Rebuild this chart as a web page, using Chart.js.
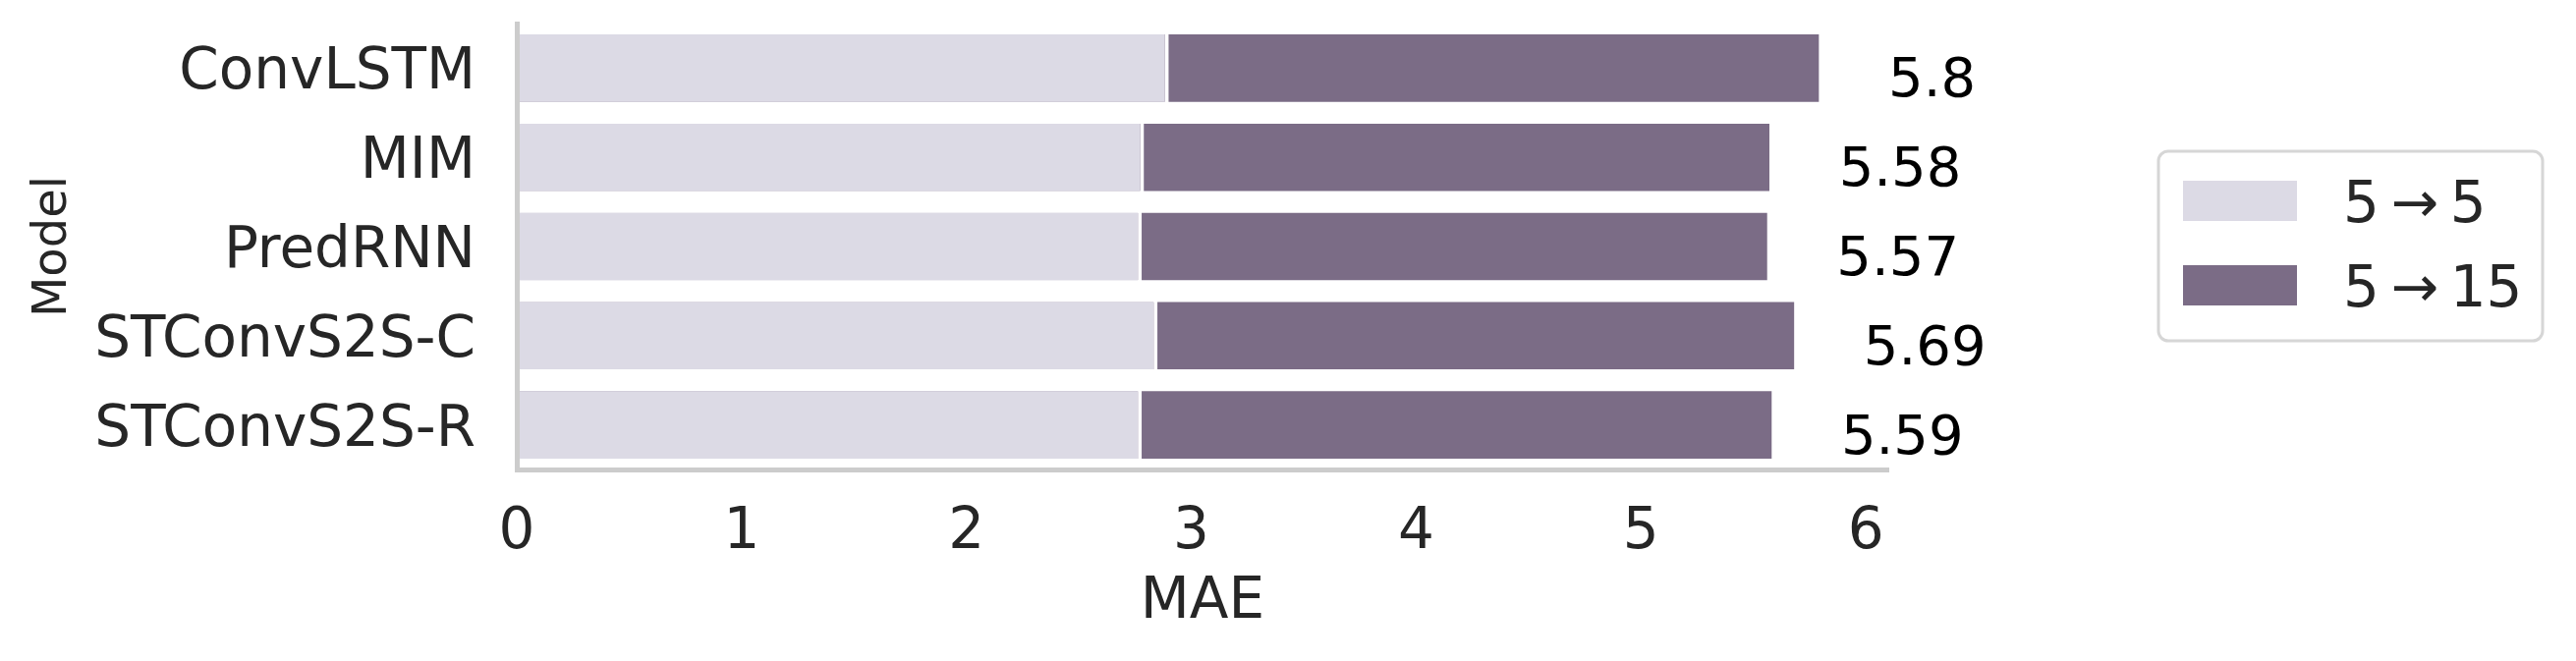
<!DOCTYPE html>
<html>
<head>
<meta charset="utf-8">
<script src="https://cdn.jsdelivr.net/npm/chart.js@4.4.2/dist/chart.umd.min.js"></script>
<style>
  html, body { margin: 0; padding: 0; background: #ffffff; }
  #wrap { width: 2622px; height: 673px; }
</style>
</head>
<body>
<div id="wrap"><canvas id="maeChart" width="2622" height="673"></canvas></div>
<script>
// Data
const models = ["ConvLSTM", "MIM", "PredRNN", "STConvS2S-C", "STConvS2S-R"];
const mae5to5 = [2.90, 2.79, 2.78, 2.85, 2.78];
const mae5to15 = [5.80, 5.58, 5.57, 5.69, 5.59];
const seriesNames = ["5\u2009\u2192\u20095", "5\u2009\u2192\u200915"];
const xTicks = [0, 1, 2, 3, 4, 5, 6];

const FONT = "'DejaVu Sans', 'Liberation Sans', sans-serif";
const TEXT = "#262626";
const LIGHT = "#dcdae5";
const DARK = "#7b6c86";

// value labels at the end of the 5->15 bars
const valueLabels = {
    id: "valueLabels",
    afterDatasetsDraw(chart) {
        const ctx = chart.ctx;
        const x = chart.scales.x;
        const y = chart.scales.y;
        ctx.save();
        ctx.font = "56px " + FONT;
        ctx.fillStyle = "#000000";
        ctx.textAlign = "left";
        ctx.textBaseline = "alphabetic";
        mae5to15.forEach((v, i) => {
            ctx.fillText(String(v), x.getPixelForValue(v + 0.3), y.getPixelForValue(i + 0.32));
        });
        ctx.restore();
    }
};

// framed legend on the right, like matplotlib's
const boxLegend = {
    id: "boxLegend",
    afterDraw(chart) {
        const ctx = chart.ctx;
        const left = 2197, top = 154, w = 391, h = 193;
        ctx.save();
        ctx.beginPath();
        ctx.roundRect(left, top, w, h, 10);
        ctx.fillStyle = "rgba(255,255,255,0.8)";
        ctx.fill();
        ctx.lineWidth = 3;
        ctx.strokeStyle = "#d6d6d6";
        ctx.stroke();
        ctx.font = "58px " + FONT;
        ctx.textAlign = "left";
        ctx.textBaseline = "alphabetic";
        chart.data.datasets.forEach((ds, i) => {
            const rowTop = 184 + i * 86;
            ctx.fillStyle = ds.backgroundColor;
            ctx.fillRect(2222, rowTop, 116, 41);
            ctx.fillStyle = TEXT;
            ctx.fillText(ds.label, 2385, rowTop + 42);
        });
        ctx.restore();
    }
};

new Chart(document.getElementById("maeChart"), {
    type: "bar",
    data: {
        labels: models,
        datasets: [
            {
                label: seriesNames[0],
                data: mae5to5,
                backgroundColor: LIGHT,
                borderColor: "#ffffff",
                borderWidth: { top: 2, right: 4, bottom: 2, left: 0 },
                borderSkipped: false,
                grouped: false,
                barPercentage: 0.8,
                categoryPercentage: 1.0
            },
            {
                label: seriesNames[1],
                data: mae5to15,
                backgroundColor: DARK,
                borderColor: "#ffffff",
                borderWidth: { top: 2, right: 2, bottom: 2, left: 0 },
                borderSkipped: false,
                grouped: false,
                barPercentage: 0.8,
                categoryPercentage: 1.0
            }
        ]
    },
    options: {
        indexAxis: "y",
        responsive: false,
        animation: false,
        devicePixelRatio: 1,
        layout: { padding: { top: 24, right: 700, bottom: 0, left: 0 } },
        plugins: {
            legend: { display: false },
            tooltip: { enabled: false }
        },
        scales: {
            x: {
                min: 0,
                max: 6.1,
                afterBuildTicks: scale => { scale.ticks = xTicks.map(v => ({ value: v })); },
                afterFit: scale => {
                    scale.height = 195;
                    scale.paddingLeft = 0;
                    scale.paddingRight = 0;
                },
                grid: { display: false, drawTicks: false },
                border: { display: true, color: "#cccccc", width: 5, z: 1 },
                ticks: { color: TEXT, font: { family: FONT, size: 58 }, padding: 30 },
                title: {
                    display: true,
                    text: "MAE",
                    color: TEXT,
                    font: { family: FONT, size: 58 },
                    padding: { top: 0, bottom: 24 }
                }
            },
            y: {
                afterFit: scale => {
                    scale.width = 526;
                    scale.paddingTop = 0;
                    scale.paddingBottom = 0;
                },
                grid: { display: false, drawTicks: false },
                border: { display: true, color: "#cccccc", width: 5, z: 1 },
                ticks: { color: TEXT, font: { family: FONT, size: 58 }, padding: 42, labelOffset: 6 },
                title: {
                    display: true,
                    text: "Model",
                    color: TEXT,
                    font: { family: FONT, size: 48 },
                    padding: { top: 26, bottom: 0 }
                }
            }
        }
    },
    plugins: [valueLabels, boxLegend]
});
</script>
</body>
</html>
